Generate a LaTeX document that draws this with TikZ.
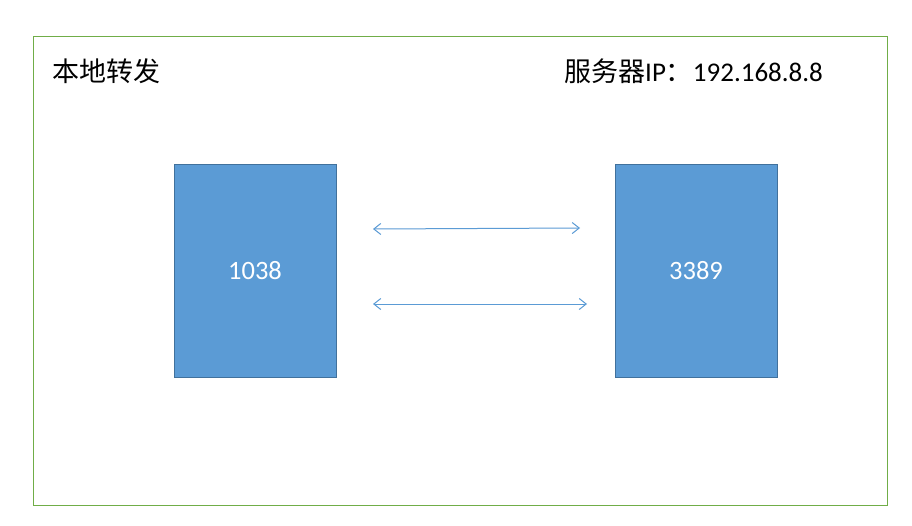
\documentclass[tikz,border=0pt]{standalone}
\usepackage{fontspec}
\setmainfont{Carlito}
\newfontfamily\cjk{Noto Sans CJK SC}
\usetikzlibrary{arrows.meta}
\definecolor{boxfill}{HTML}{5B9BD5}
\definecolor{boxdraw}{HTML}{41719C}
\definecolor{framegreen}{HTML}{70AD47}
\begin{document}
\begin{tikzpicture}[x=1pt,y=-1pt,
  portbox/.style={draw=boxdraw, fill=boxfill, line width=0.8pt, minimum width=162pt, minimum height=213pt, inner sep=0pt, text=white, font=\fontsize{26.5}{30}\selectfont},
  link/.style={draw=boxfill, line width=1pt, {Straight Barb[length=7pt,width=11pt]}-{Straight Barb[length=7pt,width=11pt]}},
  lbl/.style={font=\fontsize{27}{30}\selectfont, inner sep=0pt, anchor=base west}]
\useasboundingbox (0,0) rectangle (912,525);
\fill[white] (0,0) rectangle (912,525);
\node[draw=framegreen, line width=0.8pt, minimum width=854pt, minimum height=469pt, inner sep=0pt] (frame) at (460,270.5) {};
\node[lbl] (title) at (52,81) {\cjk 本地转发};
\node[lbl] (ip) at (564,81) {{\cjk 服务器}IP{\cjk ：}192.168.8.8};
\node[portbox] (a) at (255,270.5) {1038};
\node[portbox] (b) at (696,270.5) {3389};
\coordinate (t1) at (373,229);
\coordinate (t2) at (580,228);
\coordinate (u1) at (373,304);
\coordinate (u2) at (587,304);
\draw[link] (t1) -- (t2);
\draw[link] (u1) -- (u2);
\end{tikzpicture}
\end{document}
